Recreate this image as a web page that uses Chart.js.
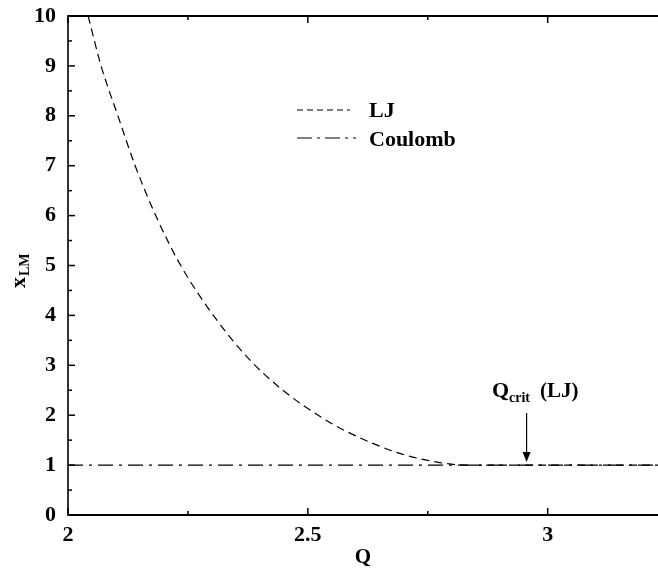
<!DOCTYPE html>
<html>
<head>
<meta charset="utf-8">
<script src="https://cdn.jsdelivr.net/npm/chart.js@4/dist/chart.umd.min.js"></script>
<style>
  body { margin: 0; background: #fff; }
  #wrap { width: 658px; height: 576px; }
</style>
</head>
<body>
<div id="wrap"><canvas id="xlmChart"></canvas></div>
<script>
// values
const ljQ = [2.042, 2.069, 2.104, 2.140, 2.183, 2.235, 2.310, 2.379, 2.448, 2.531, 2.588, 2.690, 2.775, 2.830, 3.23];
const ljX = [10, 9, 8, 7, 6, 5, 3.91, 3.11, 2.50, 1.94, 1.64, 1.24, 1.05, 1.0, 1.0];
const coulombQ = [2, 3.23];
const coulombX = [1, 1];
const qCrit = 2.956;

const serif = "'Liberation Serif', 'DejaVu Serif', serif";

function toPoints(xs, ys) {
  return xs.map((x, i) => ({ x: x, y: ys[i] }));
}

// inward ticks, top frame line, legend, subscripted labels
const extras = {
  id: 'extras',
  afterDraw(chart) {
    const c = chart.ctx;
    const a = chart.chartArea;
    const xs = chart.scales.x;
    const ys = chart.scales.y;
    c.save();
    c.strokeStyle = '#000';

    // top frame
    c.lineWidth = 2;
    c.beginPath();
    c.moveTo(a.left, a.top);
    c.lineTo(a.right, a.top);
    c.stroke();

    c.lineWidth = 1.5;
    xs.ticks.forEach(t => {
      const px = xs.getPixelForValue(t.value);
      const major = Math.abs(t.value * 2 - Math.round(t.value * 2)) < 1e-6;
      const len = major ? 7 : 4;
      c.beginPath();
      c.moveTo(px, a.bottom); c.lineTo(px, a.bottom - len);
      c.moveTo(px, a.top); c.lineTo(px, a.top + len);
      c.stroke();
    });
    ys.ticks.forEach(t => {
      const py = ys.getPixelForValue(t.value);
      const major = Math.abs(t.value - Math.round(t.value)) < 1e-6;
      const len = major ? 7 : 4;
      c.beginPath();
      c.moveTo(a.left, py); c.lineTo(a.left + len, py);
      c.stroke();
    });

    // legend
    c.lineWidth = 1.2;
    c.setLineDash([6, 4]);
    c.beginPath(); c.moveTo(297, 110); c.lineTo(350, 110); c.stroke();
    c.setLineDash([15, 5, 3, 5]);
    c.beginPath(); c.moveTo(297, 138); c.lineTo(356, 138); c.stroke();
    c.setLineDash([]);
    c.fillStyle = '#000';
    c.font = 'bold 22px ' + serif;
    c.textBaseline = 'alphabetic';
    c.textAlign = 'left';
    c.fillText('LJ', 369, 117);
    c.fillText('Coulomb', 369, 146);

    // Q_crit (LJ) annotation with arrow
    const ax = xs.getPixelForValue(qCrit);
    c.font = 'bold 22px ' + serif;
    c.fillText('Q', 492, 397);
    c.font = 'bold 14px ' + serif;
    c.fillText('crit', 509, 402);
    c.font = 'bold 21px ' + serif;
    c.fillText('(LJ)', 540, 397);
    c.lineWidth = 1.2;
    c.beginPath(); c.moveTo(ax, 413); c.lineTo(ax, 455); c.stroke();
    c.beginPath();
    c.moveTo(ax - 4, 452); c.lineTo(ax + 4, 452); c.lineTo(ax, 462); c.closePath();
    c.fill();

    // y title x_LM
    c.translate(25, 288);
    c.rotate(-Math.PI / 2);
    c.font = 'bold 22px ' + serif;
    c.fillText('x', 0, 0);
    const w = c.measureText('x').width;
    c.font = 'bold 14px ' + serif;
    c.fillText('LM', w + 1, 4);
    c.restore();
  }
};

new Chart(document.getElementById('xlmChart'), {
  type: 'line',
  data: {
    datasets: [
      {
        label: 'LJ',
        data: toPoints(ljQ, ljX),
        borderColor: '#000',
        borderWidth: 1.2,
        borderDash: [8, 5],
        pointRadius: 0,
        cubicInterpolationMode: 'monotone',
        fill: false
      },
      {
        label: 'Coulomb',
        data: toPoints(coulombQ, coulombX),
        borderColor: '#000',
        borderWidth: 1.2,
        borderDash: [15, 6, 3, 6],
        pointRadius: 0,
        fill: false
      }
    ]
  },
  options: {
    responsive: true,
    maintainAspectRatio: false,
    animation: false,
    layout: { padding: { top: 16, right: 0, left: 0, bottom: 0 } },
    plugins: {
      legend: { display: false },
      tooltip: { enabled: false }
    },
    scales: {
      x: {
        type: 'linear',
        min: 2,
        max: 3.23,
        afterFit: s => { s.height = 61; s.paddingLeft = 0; s.paddingRight = 0; },
        grid: { display: false, drawTicks: false },
        border: { display: true, color: '#000', width: 2 },
        ticks: {
          stepSize: 0.25,
          includeBounds: false,
          autoSkip: false,
          maxRotation: 0,
          padding: 7,
          color: '#000',
          font: { family: serif, size: 22, weight: 'bold' },
          callback: v => Math.abs(v * 2 - Math.round(v * 2)) < 1e-6 ? String(v) : ''
        },
        title: {
          display: true,
          text: 'Q',
          color: '#000',
          font: { family: serif, size: 21, weight: 'bold' },
          padding: { top: 0, bottom: 6 }
        }
      },
      y: {
        min: 0,
        max: 10,
        afterFit: s => { s.width = 68; s.paddingTop = 0; s.paddingBottom = 0; },
        grid: { display: false, drawTicks: false },
        border: { display: true, color: '#333', width: 2 },
        ticks: {
          stepSize: 0.5,
          autoSkip: false,
          padding: 12,
          color: '#000',
          font: { family: serif, size: 22, weight: 'bold' },
          callback: v => Number.isInteger(v) ? String(v) : ''
        }
      }
    }
  },
  plugins: [extras]
});
</script>
</body>
</html>
